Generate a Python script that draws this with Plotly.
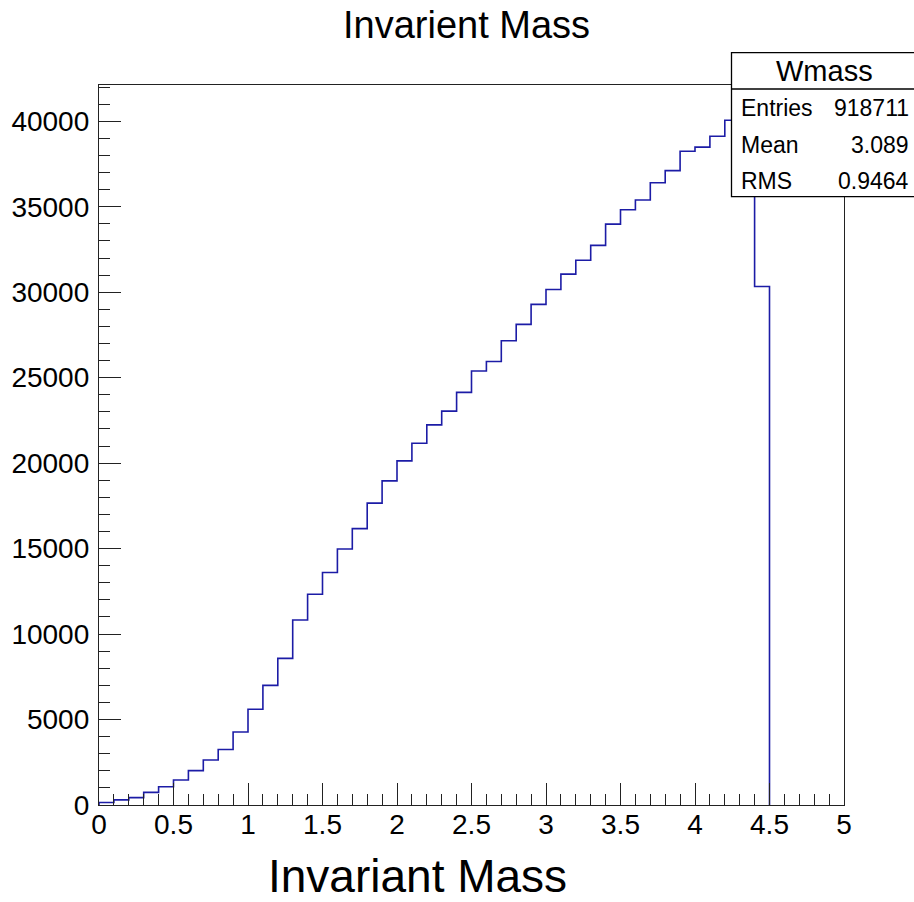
import plotly.graph_objects as go

# Histogram "Wmass": 50 bins of width 0.1 from 0 to 5
bin_width = 0.1
n_bins = 50
counts = [150, 300, 430, 740, 1070, 1460, 2010, 2630, 3250, 4270,
          5600, 7000, 8580, 10820, 12330, 13600, 14980, 16170, 17660, 18960,
          20130, 21160, 22240, 23040, 24140, 25390, 25950, 27160, 28120, 29290,
          30160, 31060, 31870, 32740, 33980, 34820, 35390, 36400, 37110, 38250,
          38490, 39120, 40060, 40100, 30330, 0, 0, 0, 0, 0]
x_ticks = [0, 0.5, 1, 1.5, 2, 2.5, 3, 3.5, 4, 4.5, 5]
x_tick_labels = ["0", "0.5", "1", "1.5", "2", "2.5", "3", "3.5", "4", "4.5", "5"]
y_ticks = [0, 5000, 10000, 15000, 20000, 25000, 30000, 35000, 40000]
y_tick_labels = [str(v) for v in y_ticks]
stats_name = "Wmass"
stats_rows = [("Entries", "918711"), ("Mean", "3.089"), ("RMS", "0.9464")]
title_text = "Invarient Mass"
x_title = "Invariant Mass"

# step outline: zero bins at the end lie on the axis (hidden under the frame)
last = max(i for i, c in enumerate(counts) if c > 0)
edges = [round(i * bin_width, 10) for i in range(last + 2)]
xs = [0.0] + edges
ys = [0] + counts[:last + 1] + [0]

FONT = "Liberation Sans, Arial, Helvetica, sans-serif"
LINE = "#1c1ca6"
FRAME = "#222222"

W, H = 914, 902
ml, mr, mt, mb = 99, 70, 85, 97
pw, ph = W - ml - mr, H - mt - mb

def px(xp):
    return (xp - ml) / pw

def py(yp):
    return (H - mb - yp) / ph

fig = go.Figure()
fig.add_trace(go.Scatter(x=xs, y=ys, mode="lines", line=dict(color=LINE, width=1.6, shape="hv"),
                         hoverinfo="skip", showlegend=False, cliponaxis=True))

axis_common = dict(showgrid=False, zeroline=False, ticks="inside", ticklen=22, tickwidth=1.2,
                   tickcolor=FRAME, showline=True, linecolor=FRAME, linewidth=1.3, mirror=True,
                   layer="above traces",
                   tickfont=dict(family=FONT, size=28, color="#000000"))

fig.update_xaxes(range=[0, 5], tickvals=x_ticks, ticktext=x_tick_labels,
                 minor=dict(dtick=0.1, ticks="inside", ticklen=11, tickwidth=1.2, tickcolor=FRAME),
                 ticklabelstandoff=-6, **axis_common)
fig.update_yaxes(range=[0, 42122], tickvals=y_ticks, ticktext=y_tick_labels,
                 minor=dict(dtick=1000, ticks="inside", ticklen=11, tickwidth=1.2, tickcolor=FRAME),
                 ticklabelstandoff=3, **axis_common)

shapes = []
# stats box
bx0, bx1 = px(731.5), px(917)
by0, by1 = py(196.7), py(52.7)
shapes.append(dict(type="rect", xref="paper", yref="paper", x0=bx0, x1=bx1, y0=by0, y1=by1,
                   line=dict(color="#000000", width=1.3), fillcolor="#ffffff", layer="above"))
shapes.append(dict(type="line", xref="paper", yref="paper", x0=bx0, x1=bx1, y0=py(89), y1=py(89),
                   line=dict(color="#000000", width=1.3), layer="above"))

annotations = []
annotations.append(dict(text=stats_name, xref="paper", yref="paper", x=px(824), y=py(71),
                        xanchor="center", yanchor="middle", showarrow=False,
                        font=dict(family=FONT, size=29, color="#000000")))
row_y = [108, 145, 181]
for (lab, val), yy in zip(stats_rows, row_y):
    annotations.append(dict(text=lab, xref="paper", yref="paper", x=px(739), y=py(yy),
                            xanchor="left", yanchor="middle", showarrow=False,
                            font=dict(family=FONT, size=23, color="#000000")))
    annotations.append(dict(text=val, xref="paper", yref="paper", x=px(911), y=py(yy),
                            xanchor="right", yanchor="middle", showarrow=False,
                            font=dict(family=FONT, size=23, color="#000000")))
annotations.append(dict(text=title_text, xref="paper", yref="paper", x=px(466), y=py(25),
                        xanchor="center", yanchor="middle", showarrow=False,
                        font=dict(family=FONT, size=38, color="#000000")))
annotations.append(dict(text=x_title, xref="paper", yref="paper", x=px(417), y=py(876),
                        xanchor="center", yanchor="middle", showarrow=False,
                        font=dict(family=FONT, size=46, color="#000000")))

fig.update_layout(width=W, height=H, margin=dict(l=ml, r=mr, t=mt, b=mb, autoexpand=False),
                  paper_bgcolor="#ffffff", plot_bgcolor="#ffffff", shapes=shapes,
                  annotations=annotations, showlegend=False)

fig.write_html("out.html")
